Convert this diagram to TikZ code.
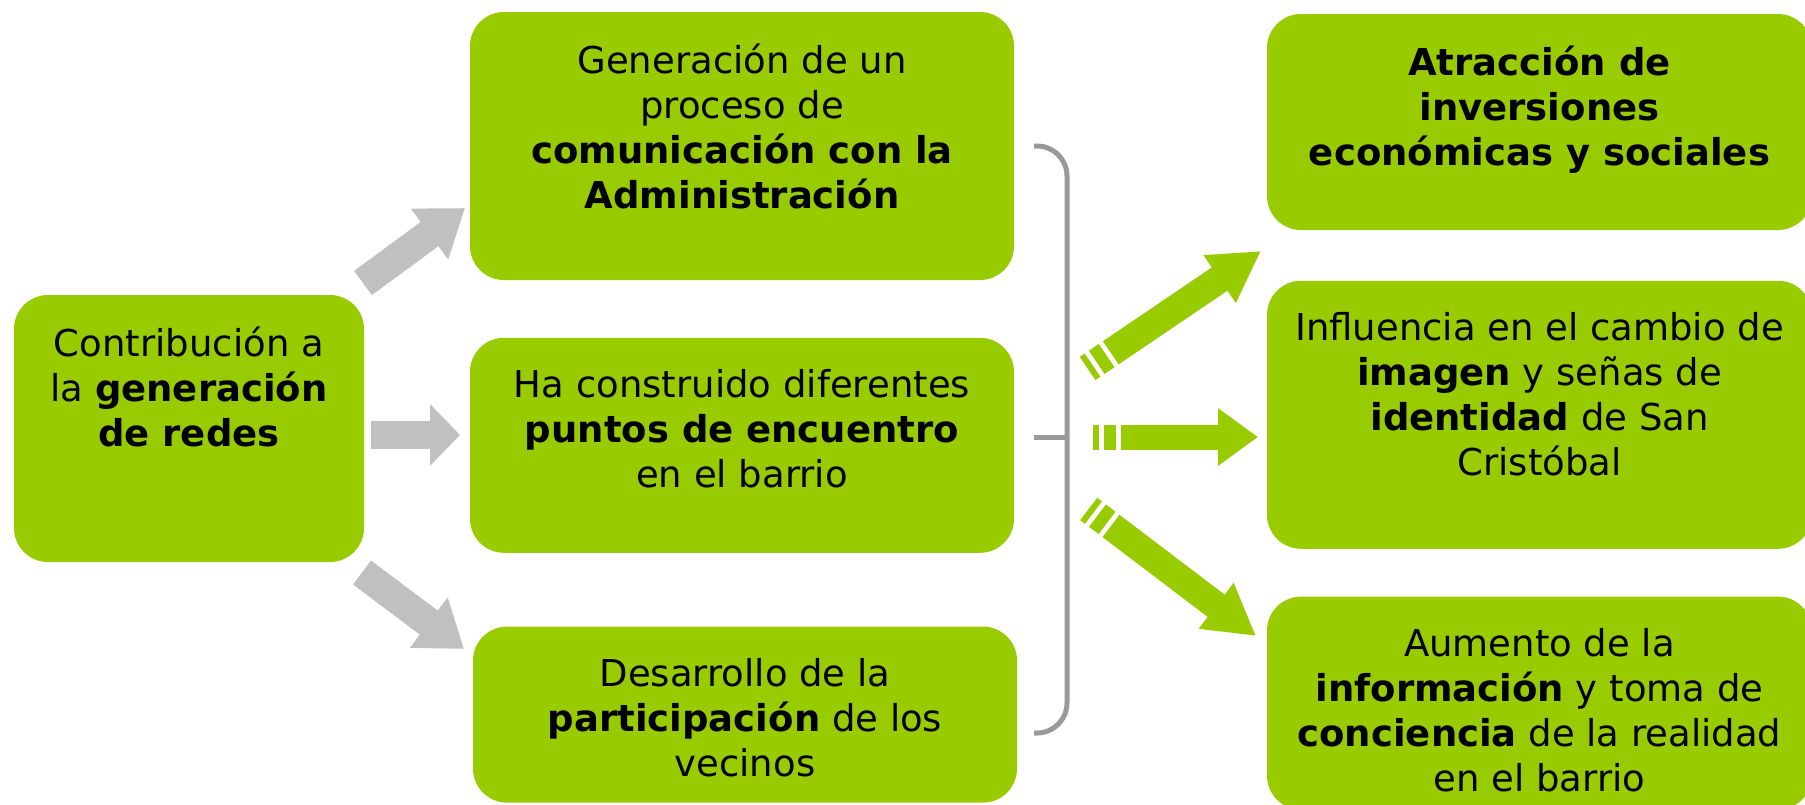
\documentclass[tikz,border=0pt]{standalone}
\usepackage{fontspec}
\setmainfont{DejaVu Sans}
\usetikzlibrary{arrows.meta, positioning}
\definecolor{lima}{HTML}{99CC00}
\definecolor{flecha}{HTML}{C0C0C0}
\definecolor{llavegris}{HTML}{999999}
\tikzset{
  caja/.style={
    rectangle,
    rounded corners=17pt,
    fill=lima,
    inner sep=0pt
  },
  texto/.style={
    align=center,
    font=\fontsize{18.5}{22.5}\selectfont,
    inner sep=0pt,
    anchor=north,
    yshift=-16pt
  },
  gris/.style={
    draw=flecha,
    line width=15pt,
    -{Triangle[width=30pt,length=22pt]}
  },
  verde/.style={
    draw=lima,
    line width=14pt,
    dash pattern=on 3pt off 2.5pt on 6pt off 2.5pt on 400pt,
    -{Triangle[width=27pt,length=25pt]}
  },
  llave/.style={draw=llavegris, line width=2.5pt}
}

\begin{document}
\begin{tikzpicture}[x=0.5pt, y=-0.5pt]
    \clip (0,0) rectangle (1805,804);
    \fill[white] (0,0) rectangle (1805,804);

    % cajas
    \node (contrib) [caja, minimum width=175pt, minimum height=133.5pt,
      label={[texto, name=contrib-t]north:Contribución a\\la \textbf{generación}\\\textbf{de redes}}]
      at (189,428.5) {};
    \node (comun) [caja, minimum width=272pt, minimum height=134pt,
      label={[texto, name=comun-t]north:Generación de un\\proceso de\\\textbf{comunicación con la}\\\textbf{Administración}}]
      at (742,146) {};
    \node (puntos) [caja, minimum width=272pt, minimum height=107.5pt, below=28.5pt of comun,
      label={[texto, name=puntos-t]north:Ha construido diferentes\\\textbf{puntos de encuentro}\\en el barrio}] {};
    \node (partic) [caja, minimum width=272pt, minimum height=88pt, below=36.5pt of puntos, xshift=1.5pt,
      label={[texto, name=partic-t]north:Desarrollo de la\\\textbf{participación} de los\\vecinos}] {};
    \node (atracc) [caja, minimum width=272.5pt, minimum height=108pt,
      label={[texto, name=atracc-t]north:\textbf{Atracción de}\\\textbf{inversiones}\\\textbf{económicas y sociales}}]
      at (1539.5,122) {};
    \node (imagen) [caja, minimum width=272.5pt, minimum height=134pt, below=25pt of atracc,
      label={[texto, name=imagen-t]north:Influencia en el cambio de\\\textbf{imagen} y señas de\\\textbf{identidad} de San\\Cristóbal}] {};
    \node (inform) [caja, minimum width=272.5pt, minimum height=106.5pt, below=23.5pt of imagen,
      label={[texto, name=inform-t]north:Aumento de la\\\textbf{información} y toma de\\\textbf{conciencia} de la realidad\\en el barrio}] {};

    % flechas grises
    \coordinate (g1a) at (363,283);
    \coordinate (g1b) at (465,208);
    \coordinate (g2a) at (371,435);
    \coordinate (g2b) at (460,435);
    \coordinate (g3a) at (362,572.5);
    \coordinate (g3b) at (464,649);
    \draw[gris] (g1a) -- (g1b);
    \draw[gris, line width=14pt, -{Triangle[width=30pt,length=15pt]}] (g2a) -- (g2b);
    \draw[gris] (g3a) -- (g3b);

    % llave
    \coordinate (llsup) at (1034,146);
    \coordinate (llinf) at (1034,733);
    \coordinate (llmed) at (1067,437);
    \coordinate (llpico) at (1034,437);
    \draw[llave, rounded corners=15pt] (llsup) -| (llmed) |- (llinf);
    \draw[llave] (llpico) -- (llmed);

    % flechas verdes
    \coordinate (v1a) at (1087.6,368.5);
    \coordinate (v1b) at (1261,251);
    \coordinate (v2a) at (1093,437);
    \coordinate (v2b) at (1258,437);
    \coordinate (v3a) at (1088.7,509);
    \coordinate (v3b) at (1256,636);
    \draw[verde] (v1a) -- (v1b);
    \draw[verde, line width=12.5pt, -{Triangle[width=27.5pt,length=20pt]}] (v2a) -- (v2b);
    \draw[verde] (v3a) -- (v3b);
\end{tikzpicture}
\end{document}
